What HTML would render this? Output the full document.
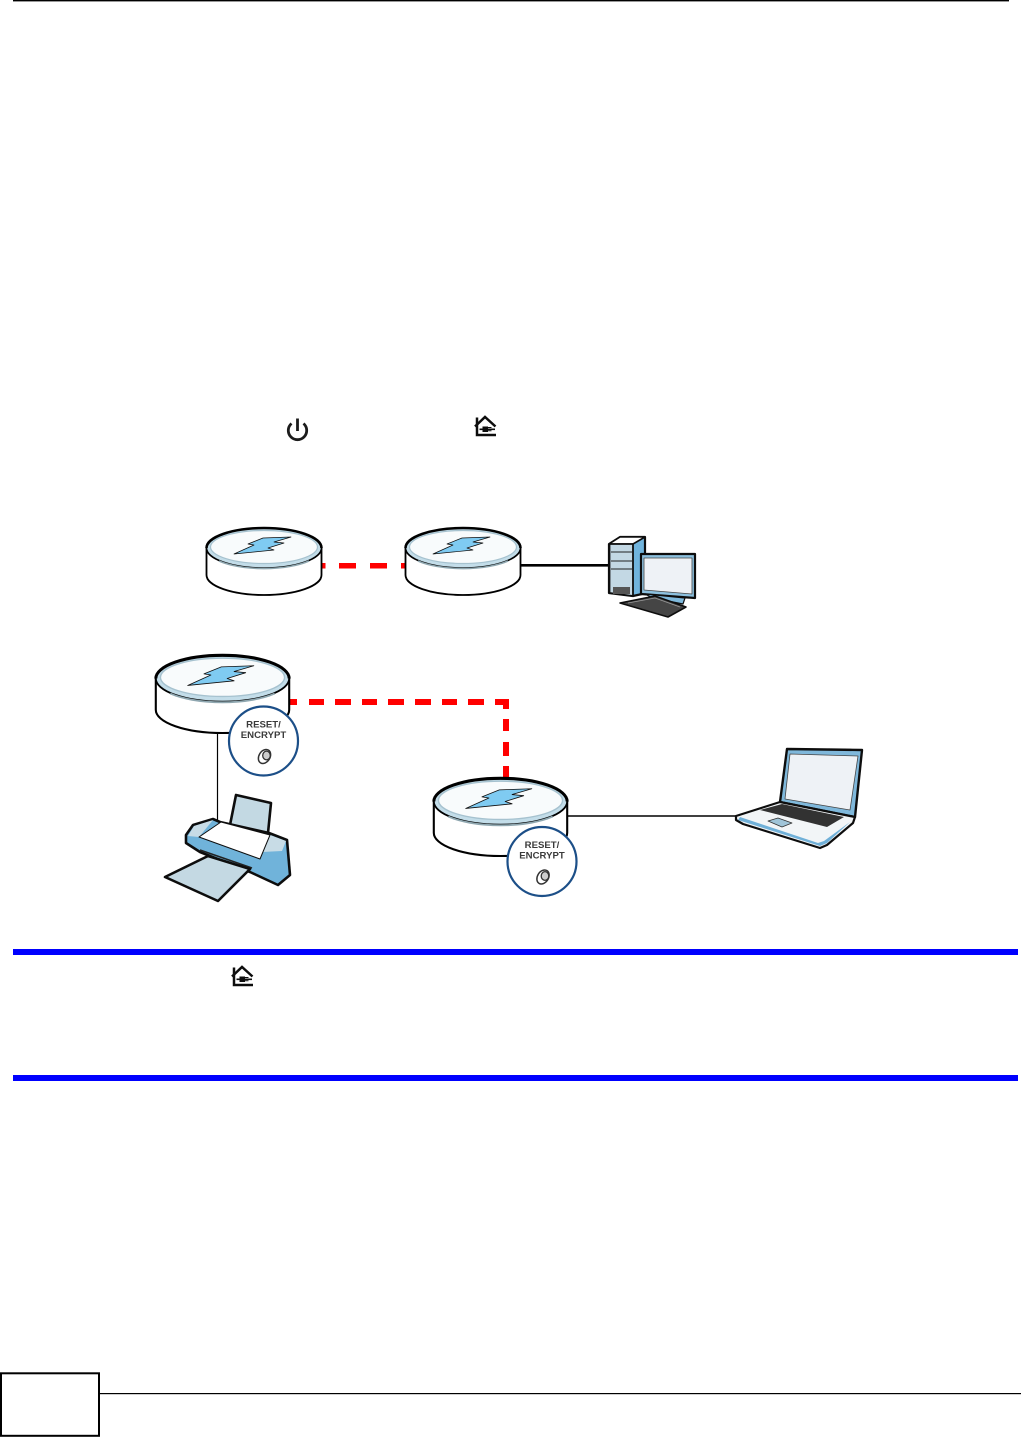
<!DOCTYPE html>
<html lang="en">
<head>
<meta charset="utf-8">
<title>Diagram</title>
<style>
html,body{margin:0;padding:0;background:#fff;}
body{width:1021px;height:1437px;overflow:hidden;}
svg{display:block;}
text{font-family:"Liberation Sans",sans-serif;font-weight:bold;fill:#3a3a3a;text-anchor:middle;}
</style>
</head>
<body>
<svg width="1021" height="1437" viewBox="0 0 1021 1437" xmlns="http://www.w3.org/2000/svg">
<defs>
  <filter id="soft" x="-5%" y="-5%" width="110%" height="110%"><feGaussianBlur stdDeviation="0.35"/></filter>
  <g id="router">
    <path d="M-57.500 0V27A57.500 20 0 0 0 57.500 27V0" fill="#fff" stroke="#000" stroke-width="1.800"/>
    <ellipse cx="0" cy="0" rx="57.500" ry="20" fill="#c3dde9" stroke="#000" stroke-width="1.600"/>
    <path d="M-57.500 0A57.500 20 0 0 1 57.500 0" fill="none" stroke="#000" stroke-width="2.600"/>
    <path d="M-45 13A57.500 20 0 0 0 45 13" fill="none" stroke="#8fa7b0" stroke-width="1.600"/>
    <ellipse cx="0" cy="-1" rx="53.500" ry="16.500" fill="#f8fbfc" stroke="#a6c2cf" stroke-width="1.200"/>
    <path d="M-30 6L-10 -3L-16 -4L-1 -10L27 -11L10 -6L20 -5L4 0L10 2Z" fill="#7fcbf2" stroke="#111" stroke-width="0.700" stroke-linejoin="round"/>
  </g>
  <g id="reset">
    <circle cx="0" cy="0" r="34.500" fill="#fff" stroke="#1d4f88" stroke-width="2.200"/>
    <text x="0" y="-13.500" font-size="9.600">RESET/</text>
    <text x="0" y="-3" font-size="9.600">ENCRYPT</text>
    <ellipse cx="1" cy="15.500" rx="5.500" ry="7.500" transform="rotate(32 1 15.500)" fill="#fff" stroke="#333" stroke-width="1.500"/>
    <ellipse cx="3" cy="14.500" rx="3.800" ry="4.400" fill="#ccc" stroke="#333" stroke-width="1.300"/>
  </g>
  <g id="home" fill="none" stroke="#111" stroke-width="2.500">
    <path d="M1.500 11.500L11.500 2L22 11.500"/>
    <path d="M3.500 2.500V20H22.500"/>
    <path d="M6 14.300H21.500" stroke-width="1.600"/>
    <path d="M9 11.500H14.500V17H9Z" fill="#111" stroke="none"/>
    <path d="M14 12.500H18M14 15.800H18" stroke-width="1"/>
  </g>
</defs>

<!-- page header rule -->
<rect x="13" y="0" width="996" height="1.400" fill="#000"/>

<!-- inline icons -->
<g filter="url(#soft)">
<g fill="none" stroke="#1a1a1a" stroke-width="2.800">
  <path d="M291.500 423.500A9.200 9.200 0 1 0 303.500 423.500"/>
  <path d="M297.500 418.500V431"/>
</g>
<use href="#home" x="473.500" y="415"/>
<use href="#home" x="230.500" y="965"/>
</g>

<!-- top row connectors -->
<path d="M322 565.700H405" stroke="#f00" stroke-width="5.500" stroke-dasharray="3.500 13.500 17 14 17 14 17" fill="none"/>
<path d="M521 565.300H611" stroke="#000" stroke-width="2.600" fill="none"/>

<!-- top row routers -->
<g filter="url(#soft)">
<use href="#router" transform="translate(264 548)"/>
<use href="#router" transform="translate(463 548)"/>
</g>

<!-- desktop -->
<g stroke-linejoin="round" filter="url(#soft)">
  <path d="M609 544L620 537H645V557L642 594L633 596L609 593Z" fill="#6fb4dd" stroke="#111" stroke-width="2.200"/>
  <path d="M609 544L620 537H645L633 544Z" fill="#fff" stroke="#111" stroke-width="1.600"/>
  <path d="M609.500 544H633V596L609.500 593Z" fill="#c3d8e4" stroke="#111" stroke-width="1.800"/>
  <path d="M611 552H632M611 561H632M611 569H632" stroke="#222" stroke-width="1"/>
  <path d="M613 587H630V594H613Z" fill="#555"/>
  <path d="M641 554H695V598L641 594Z" fill="#8cc0de" stroke="#111" stroke-width="2.200"/>
  <path d="M644 558H692V594L644 590Z" fill="#eef2f6" stroke="#444" stroke-width="0.800"/>
  <path d="M645 594L685 598L683 604L653 598Z" fill="#7fb9dc" stroke="#111" stroke-width="1.200"/>
  <path d="M620 603L655 596L686 607L668 617Z" fill="#444" stroke="#111" stroke-width="1.600"/>
  <path d="M628 603L655 598L680 607" fill="none" stroke="#999" stroke-width="0.800"/>
</g>

<!-- bottom connectors -->
<path d="M217.500 733V820" stroke="#000" stroke-width="1.200" fill="none"/>
<path d="M565 816H737" stroke="#000" stroke-width="1.600" fill="none"/>
<g fill="#f00">
  <rect x="286" y="699" width="11" height="6"/>
  <rect x="309" y="699" width="15" height="6"/>
  <rect x="335" y="699" width="16" height="6"/>
  <rect x="362" y="699" width="15" height="6"/>
  <rect x="388" y="699" width="16" height="6"/>
  <rect x="415" y="699" width="16" height="6"/>
  <rect x="442" y="699" width="15" height="6"/>
  <rect x="468" y="699" width="16" height="6"/>
  <rect x="495" y="699" width="14" height="6"/>
  <rect x="503" y="699" width="6" height="10"/>
  <rect x="503" y="719" width="6" height="12"/>
  <rect x="503" y="742" width="6" height="14"/>
  <rect x="503" y="766" width="6" height="11"/>
</g>

<!-- bottom routers -->
<g filter="url(#soft)">
<use href="#router" transform="translate(222.500 678.500) scale(1.160)"/>
<use href="#reset" x="263.500" y="741"/>
<use href="#router" transform="translate(500.500 801.500) scale(1.160)"/>
<use href="#reset" x="542" y="861.500"/>
</g>

<!-- printer -->
<g stroke-linejoin="round" filter="url(#soft)">
  <path d="M230 825L236 795L271 803L268 833Z" fill="#c3d9e3" stroke="#111" stroke-width="2.600"/>
  <path d="M186 835L193 825L213 819L220 822L269 833L287 840L290 875L278 885L250 872L200 852L186 843Z" fill="#6fb3da" stroke="#111" stroke-width="2.600"/>
  <path d="M188 836L194 826L213 820L199 837Z" fill="#c8dce6"/>
  <path d="M262 852L270 835L286 841L282 851Z" fill="#c8dce6"/>
  <path d="M199 837L221 822L270 835L260 859Z" fill="#fff" stroke="#111" stroke-width="1"/>
  <path d="M200 850L252 868" stroke="#222" stroke-width="1.600" fill="none"/>
  <path d="M165 877L208 856L250 869L218 901Z" fill="#c4d9e3" stroke="#111" stroke-width="2.600"/>
</g>

<!-- laptop -->
<g stroke-linejoin="round" filter="url(#soft)">
  <path d="M787 749L862 750L855 817L780 802Z" fill="#7fb8db" stroke="#111" stroke-width="2.400"/>
  <path d="M790 754L858 756L850 810L785 799Z" fill="#eef2f6" stroke="#444" stroke-width="0.800"/>
  <path d="M736 816L780 802L855 817L853 823L827 845L820 848L743 824L736 820Z" fill="#f2f5f7" stroke="#111" stroke-width="2.200"/>
  <path d="M738 820L820 846L827 843L850 822L824 841L818 843L740 817Z" fill="#6fb0d8"/>
  <path d="M760 810L782 804L844 817L827 827Z" fill="#333"/>
  <path d="M768 821L778 818L792 823L782 827Z" fill="#9fc4d8" stroke="#333" stroke-width="0.800"/>
</g>

<!-- note rules -->
<rect x="13" y="949" width="1005" height="6" fill="#00f"/>
<rect x="13" y="1075" width="1005" height="6" fill="#00f"/>

<!-- footer -->
<rect x="1" y="1373.300" width="98" height="62.500" fill="#fff" stroke="#000" stroke-width="2"/>
<rect x="100" y="1393" width="921" height="1.200" fill="#000"/>
</svg>
</body>
</html>
